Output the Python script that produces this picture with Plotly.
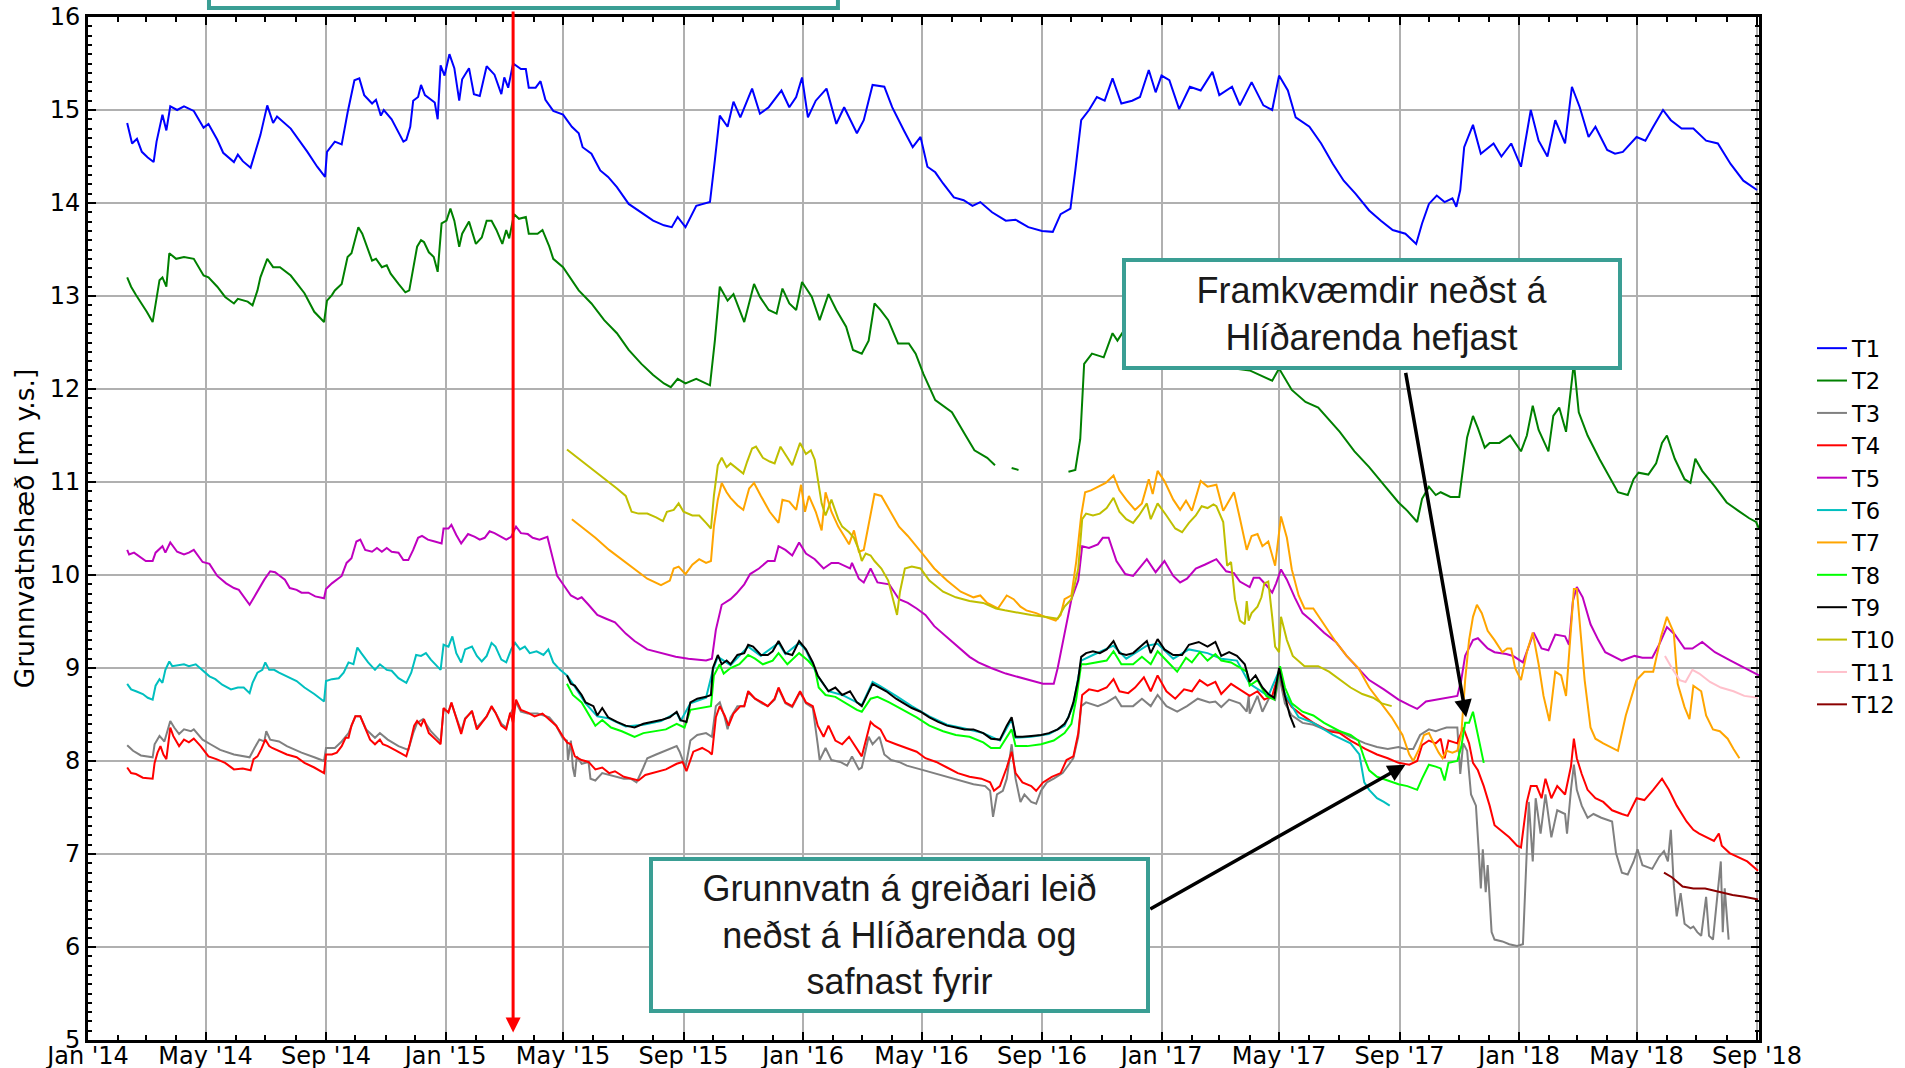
import plotly.graph_objects as go

# ---------------- data ----------------
t1_dates = ["2014-02-10","2014-02-15","2014-02-20","2014-02-25","2014-03-03","2014-03-09","2014-03-12","2014-03-18","2014-03-22","2014-03-26",
"2014-04-02","2014-04-09","2014-04-19","2014-04-29","2014-05-04","2014-05-13","2014-05-19","2014-05-30","2014-06-03","2014-06-08",
"2014-06-16","2014-06-26","2014-07-03","2014-07-09","2014-07-13","2014-07-27","2014-08-13","2014-08-23","2014-08-31","2014-09-02",
"2014-09-10","2014-09-17","2014-09-23","2014-09-30","2014-10-05","2014-10-10","2014-10-18","2014-10-22","2014-10-27","2014-10-30",
"2014-11-07","2014-11-14","2014-11-19","2014-11-22","2014-11-26","2014-11-29","2014-12-04","2014-12-07","2014-12-11","2014-12-21",
"2014-12-24","2014-12-27","2014-12-31","2015-01-05","2015-01-10","2015-01-15","2015-01-18","2015-01-25","2015-01-30","2015-02-05",
"2015-02-12","2015-02-20","2015-02-27","2015-03-02","2015-03-06","2015-03-11","2015-03-19","2015-03-24","2015-03-27","2015-04-03",
"2015-04-08","2015-04-13","2015-04-21","2015-05-01","2015-05-10","2015-05-17","2015-05-21","2015-05-30","2015-06-08","2015-06-16",
"2015-06-25","2015-07-07","2015-07-20","2015-08-01","2015-08-12","2015-08-20","2015-08-26","2015-09-03","2015-09-14","2015-09-28",
"2015-10-03","2015-10-08","2015-10-16","2015-10-22","2015-10-29","2015-11-10","2015-11-18","2015-11-27","2015-12-10","2015-12-18",
"2015-12-25","2015-12-31","2016-01-06","2016-01-14","2016-01-25","2016-02-04","2016-02-12","2016-02-25","2016-03-03","2016-03-12",
"2016-03-24","2016-04-01","2016-04-13","2016-04-22","2016-04-30","2016-05-07","2016-05-15","2016-05-23","2016-06-03","2016-06-13",
"2016-06-22","2016-06-30","2016-07-12","2016-07-26","2016-08-05","2016-08-18","2016-09-01","2016-09-12","2016-09-20","2016-09-30",
"2016-10-05","2016-10-11","2016-10-19","2016-10-27","2016-11-04","2016-11-12","2016-11-21","2016-12-02","2016-12-10","2016-12-19",
"2016-12-26","2017-01-01","2017-01-09","2017-01-19","2017-01-30","2017-02-10","2017-02-22","2017-03-01","2017-03-14","2017-03-22",
"2017-04-03","2017-04-15","2017-04-24","2017-05-01","2017-05-10","2017-05-18","2017-06-01","2017-06-13","2017-06-25","2017-07-06",
"2017-07-18","2017-08-01","2017-08-13","2017-08-25","2017-09-07","2017-09-18","2017-09-24","2017-10-01","2017-10-09","2017-10-17",
"2017-10-25","2017-10-29","2017-11-02","2017-11-06","2017-11-15","2017-11-23","2017-12-06","2017-12-14","2017-12-24","2018-01-03",
"2018-01-13","2018-01-21","2018-01-30","2018-02-07","2018-02-17","2018-02-24","2018-03-04","2018-03-13","2018-03-20","2018-04-01",
"2018-04-09","2018-04-17","2018-05-01","2018-05-10","2018-05-18","2018-05-28","2018-06-05","2018-06-16","2018-06-28","2018-07-11",
"2018-07-23","2018-08-05","2018-08-18","2018-09-01"]
t1_vals = [14.86,14.64,14.69,14.55,14.49,14.44,14.66,14.95,14.78,15.04,
15.00,15.04,14.99,14.81,14.85,14.68,14.54,14.44,14.52,14.45,
14.38,14.73,15.05,14.86,14.93,14.80,14.55,14.39,14.28,14.55,
14.66,14.63,14.97,15.32,15.34,15.16,15.07,15.11,14.94,15.00,
14.90,14.75,14.66,14.68,14.82,15.10,15.14,15.27,15.16,15.08,
14.90,15.48,15.37,15.60,15.45,15.10,15.33,15.45,15.17,15.15,
15.47,15.38,15.17,15.35,15.24,15.50,15.44,15.44,15.24,15.24,
15.31,15.11,14.99,14.95,14.82,14.75,14.60,14.53,14.35,14.28,
14.17,13.99,13.90,13.81,13.76,13.74,13.85,13.74,13.97,14.01,
14.46,14.94,14.82,15.09,14.92,15.23,14.96,15.03,15.21,15.03,
15.14,15.35,14.92,15.10,15.23,14.85,15.03,14.75,14.89,15.27,
15.25,15.03,14.78,14.60,14.71,14.39,14.33,14.21,14.06,14.03,
13.97,14.01,13.90,13.81,13.82,13.74,13.70,13.69,13.88,13.94,
14.35,14.89,15.00,15.14,15.10,15.34,15.07,15.10,15.14,15.43,
15.19,15.37,15.32,15.01,15.25,15.21,15.41,15.16,15.25,15.05,
15.30,15.05,15.00,15.37,15.21,14.92,14.82,14.64,14.42,14.24,
14.10,13.92,13.81,13.71,13.67,13.56,13.78,13.99,14.08,14.01,
14.05,13.96,14.14,14.60,14.84,14.53,14.64,14.50,14.64,14.39,
15.00,14.67,14.50,14.89,14.64,15.25,15.03,14.71,14.82,14.57,
14.53,14.55,14.71,14.67,14.82,15.00,14.89,14.80,14.80,14.67,
14.64,14.42,14.24,14.14]

t2_dates = ["2014-02-10","2014-02-14","2014-02-19","2014-02-26","2014-03-02","2014-03-08","2014-03-12","2014-03-15","2014-03-18","2014-03-22",
"2014-03-25","2014-04-01","2014-04-09","2014-04-19","2014-04-29","2014-05-04","2014-05-13","2014-05-21","2014-05-30","2014-06-03",
"2014-06-13","2014-06-18","2014-06-23","2014-06-26","2014-07-03","2014-07-09","2014-07-16","2014-07-27","2014-08-10","2014-08-20",
"2014-08-30","2014-09-02","2014-09-07","2014-09-10","2014-09-17","2014-09-23","2014-09-27","2014-10-04","2014-10-08","2014-10-13",
"2014-10-18","2014-10-22","2014-10-28","2014-11-02","2014-11-06","2014-11-14","2014-11-21","2014-11-25","2014-11-28","2014-12-03",
"2014-12-07","2014-12-10","2014-12-15","2014-12-20","2014-12-24","2014-12-28","2015-01-02","2015-01-06","2015-01-10","2015-01-15",
"2015-01-18","2015-01-25","2015-02-01","2015-02-07","2015-02-12","2015-02-17","2015-02-22","2015-02-28","2015-03-04","2015-03-07",
"2015-03-12","2015-03-17","2015-03-24","2015-03-27","2015-04-05","2015-04-10","2015-04-17","2015-04-21","2015-05-01","2015-05-10",
"2015-05-17","2015-05-30","2015-06-12","2015-06-25","2015-07-07","2015-07-20","2015-08-01","2015-08-12","2015-08-19","2015-08-26",
"2015-09-03","2015-09-14","2015-09-28","2015-10-03","2015-10-08","2015-10-16","2015-10-22","2015-11-02","2015-11-12","2015-11-18",
"2015-11-27","2015-12-05","2015-12-11","2015-12-18","2015-12-25","2015-12-31","2016-01-10","2016-01-18","2016-01-27","2016-02-04",
"2016-02-14","2016-02-21","2016-03-01","2016-03-08","2016-03-14","2016-03-20","2016-03-28","2016-04-07","2016-04-18","2016-04-25",
"2016-05-03","2016-05-15","2016-06-01","2016-06-15","2016-06-24","2016-07-07","2016-07-15","2016-07-25","2016-08-01","2016-08-08",
"2016-09-01","2016-09-28","2016-10-05","2016-10-10","2016-10-14","2016-10-22","2016-11-03","2016-11-12","2016-11-17","2016-12-01",
"2016-12-20","2017-01-10","2017-02-01","2017-02-20","2017-03-10","2017-03-17","2017-04-01","2017-04-24","2017-05-01","2017-05-14",
"2017-05-28","2017-06-10","2017-06-21","2017-07-02","2017-07-17","2017-08-01","2017-08-16","2017-08-31","2017-09-09","2017-09-19",
"2017-09-24","2017-10-01","2017-10-08","2017-10-13","2017-10-23","2017-11-01","2017-11-05","2017-11-09","2017-11-15","2017-11-20",
"2017-11-27","2017-12-02","2017-12-12","2017-12-18","2017-12-23","2017-12-27","2018-01-03","2018-01-09","2018-01-15","2018-01-21",
"2018-01-31","2018-02-05","2018-02-11","2018-02-18","2018-02-26","2018-03-03","2018-03-12","2018-03-24","2018-04-02","2018-04-12",
"2018-04-22","2018-04-28","2018-05-03","2018-05-13","2018-05-21","2018-05-27","2018-06-01","2018-06-09","2018-06-19","2018-06-25",
"2018-06-30","2018-07-07","2018-07-20","2018-08-01","2018-08-13","2018-08-24","2018-08-31","2018-09-03"]
t2_vals = [13.20,13.10,13.01,12.90,12.83,12.72,12.99,13.17,13.20,13.10,
13.46,13.40,13.42,13.40,13.22,13.20,13.10,12.99,12.92,12.97,
12.94,12.90,13.06,13.20,13.40,13.31,13.31,13.22,13.03,12.83,
12.72,12.95,13.01,13.06,13.13,13.42,13.46,13.74,13.67,13.53,
13.38,13.40,13.31,13.33,13.24,13.13,13.04,13.06,13.24,13.53,
13.60,13.58,13.47,13.42,13.26,13.78,13.81,13.94,13.81,13.53,
13.67,13.80,13.56,13.63,13.81,13.81,13.71,13.56,13.71,13.62,
13.88,13.83,13.85,13.67,13.67,13.71,13.53,13.40,13.31,13.17,
13.06,12.92,12.74,12.60,12.42,12.27,12.15,12.06,12.02,12.11,
12.06,12.11,12.04,12.52,13.10,12.95,13.02,12.72,13.13,12.99,
12.85,12.81,13.08,12.92,12.85,13.15,12.99,12.74,13.02,12.85,
12.67,12.42,12.38,12.52,12.92,12.85,12.74,12.49,12.49,12.38,
12.16,11.88,11.75,11.50,11.34,11.26,11.18,None,11.15,11.13,
None,11.11,11.13,11.46,12.27,12.38,12.34,12.60,12.52,12.75,
12.95,12.90,12.80,12.60,12.40,12.22,12.20,12.09,12.22,11.99,
11.86,11.80,11.67,11.54,11.33,11.16,10.97,10.78,10.69,10.57,
10.82,10.95,10.86,10.89,10.84,10.84,11.16,11.48,11.71,11.58,
11.37,11.42,11.42,11.46,11.50,11.44,11.33,11.50,11.82,11.56,
11.33,11.71,11.80,11.54,12.28,11.75,11.50,11.25,11.08,10.89,
10.86,11.03,11.10,11.08,11.20,11.42,11.50,11.25,11.03,10.99,
11.25,11.12,10.95,10.78,10.69,10.61,10.57,10.50]

t3_dates = ["2014-02-10","2014-02-16","2014-02-24","2014-03-08","2014-03-10","2014-03-15","2014-03-20","2014-03-26","2014-03-30","2014-04-04",
"2014-04-09","2014-04-16","2014-04-19","2014-04-28","2014-05-06","2014-05-16","2014-05-30","2014-06-15","2014-06-20","2014-06-25",
"2014-06-30","2014-07-02","2014-07-06","2014-07-15","2014-07-23","2014-08-07","2014-08-20","2014-08-30","2014-09-01","2014-09-10",
"2014-09-17","2014-09-24","2014-10-01","2014-10-06","2014-10-12","2014-10-21","2014-10-26","2014-11-03","2014-11-14","2014-11-24",
"2014-11-29","2014-12-03","2014-12-09","2014-12-17","2014-12-27","2014-12-30","2015-01-04","2015-01-07","2015-01-12","2015-01-17",
"2015-01-21","2015-01-28","2015-02-02","2015-02-07","2015-02-12","2015-02-17","2015-02-21","2015-02-27","2015-03-04","2015-03-08",
"2015-03-14","2015-03-19","2015-03-26","2015-04-05","2015-04-17","2015-04-24","2015-05-01","2015-05-05","2015-05-06","2015-05-09",
"2015-05-11","2015-05-13","2015-05-15","2015-05-20","2015-05-27","2015-05-29","2015-06-03","2015-06-10","2015-06-17","2015-06-23",
"2015-07-02","2015-07-09","2015-07-15","2015-07-22","2015-07-26","2015-08-04","2015-08-16","2015-08-25","2015-08-28","2015-09-03",
"2015-09-08","2015-09-15","2015-09-24","2015-09-30","2015-10-04","2015-10-08","2015-10-13","2015-10-16","2015-10-19","2015-10-26",
"2015-11-02","2015-11-06","2015-11-13","2015-11-20","2015-11-26","2015-12-03","2015-12-07","2015-12-14","2015-12-21","2015-12-29",
"2016-01-04","2016-01-11","2016-01-16","2016-01-18","2016-01-24","2016-01-30","2016-02-08","2016-02-15","2016-02-20","2016-02-27",
"2016-03-01","2016-03-08","2016-03-12","2016-03-19","2016-03-24","2016-03-31","2016-04-08","2016-04-16","2016-04-30","2016-05-14",
"2016-05-27","2016-06-10","2016-06-23","2016-07-05","2016-07-10","2016-07-13","2016-07-17","2016-07-23","2016-07-27","2016-08-01",
"2016-08-05","2016-08-10","2016-08-14","2016-08-21","2016-08-26","2016-08-31","2016-09-06","2016-09-13","2016-09-22","2016-09-29",
"2016-10-03","2016-10-08","2016-10-11","2016-10-16","2016-10-28","2016-11-06","2016-11-15","2016-11-21","2016-12-03","2016-12-12",
"2016-12-21","2016-12-28","2017-01-06","2017-01-17","2017-01-27","2017-02-07","2017-02-19","2017-02-25","2017-03-03","2017-03-11",
"2017-03-22","2017-03-29","2017-03-31","2017-04-01","2017-04-09","2017-04-14","2017-04-22","2017-04-27","2017-05-01","2017-05-07",
"2017-05-14","2017-05-25","2017-06-05","2017-06-16","2017-07-02","2017-07-13","2017-07-28","2017-08-09","2017-08-20","2017-08-31",
"2017-09-07","2017-09-15","2017-09-22","2017-10-01","2017-10-08","2017-10-13","2017-10-19","2017-10-30","2017-11-02","2017-11-05",
"2017-11-09","2017-11-13","2017-11-18","2017-11-21","2017-11-23","2017-11-25","2017-11-28","2017-11-30","2017-12-04","2017-12-07",
"2017-12-15","2017-12-22","2017-12-30","2018-01-05","2018-01-09","2018-01-11","2018-01-15","2018-01-18","2018-01-23","2018-01-28",
"2018-02-03","2018-02-09","2018-02-17","2018-02-19","2018-02-23","2018-02-26","2018-03-01","2018-03-06","2018-03-12","2018-03-18",
"2018-03-26","2018-04-01","2018-04-06","2018-04-10","2018-04-16","2018-04-22","2018-04-28","2018-05-02","2018-05-07","2018-05-17",
"2018-05-24","2018-05-29","2018-06-02","2018-06-05","2018-06-08","2018-06-11","2018-06-15","2018-06-19","2018-06-25","2018-06-28",
"2018-07-02","2018-07-06","2018-07-11","2018-07-14","2018-07-18","2018-07-26","2018-07-28","2018-07-30","2018-08-03"]
t3_vals = [8.17,8.11,8.06,8.04,8.18,8.27,8.21,8.43,8.36,8.29,
8.34,8.32,8.34,8.23,8.18,8.12,8.07,8.04,8.14,8.23,
8.21,8.32,8.23,8.21,8.16,8.09,8.04,8.00,8.14,8.14,
8.21,8.30,8.48,8.48,8.34,8.25,8.30,8.23,8.16,8.12,
8.30,8.41,8.45,8.32,8.21,8.55,8.53,8.62,8.47,8.32,
8.46,8.53,8.36,8.42,8.48,8.58,8.52,8.40,8.36,8.50,
8.63,8.53,8.51,8.51,8.47,8.38,8.24,8.22,8.01,8.22,
7.93,7.83,8.05,7.97,7.99,7.81,7.79,7.87,7.85,7.83,
7.81,7.81,7.77,7.93,8.03,8.07,8.12,8.16,8.10,7.93,
8.22,8.28,8.30,8.26,8.59,8.63,8.47,8.34,8.47,8.59,
8.59,8.74,8.67,8.62,8.59,8.66,8.78,8.62,8.58,8.74,
8.62,8.57,8.18,8.01,8.14,8.01,7.99,7.95,8.05,7.91,
7.93,8.26,8.18,8.26,8.07,8.01,7.99,7.95,7.91,7.87,
7.83,7.79,7.75,7.73,7.68,7.40,7.64,7.68,7.81,8.18,
7.81,7.56,7.64,7.56,7.54,7.68,7.77,7.81,7.87,7.97,
8.03,8.26,8.59,8.63,8.59,8.63,8.69,8.59,8.59,8.67,
8.59,8.71,8.59,8.53,8.59,8.67,8.63,8.64,8.58,8.66,
8.62,8.53,8.70,8.51,8.70,8.53,8.70,8.66,8.92,8.62,
8.49,8.41,8.39,8.34,8.32,8.26,8.19,8.15,8.13,8.15,
8.13,8.13,8.28,8.34,8.32,8.34,8.36,8.36,7.86,8.19,
8.11,7.64,7.52,7.01,6.63,7.05,6.59,6.88,6.16,6.08,
6.06,6.03,6.01,6.03,7.18,7.56,6.92,7.60,7.22,7.64,
7.18,7.47,7.43,7.22,7.69,7.96,7.69,7.52,7.39,7.43,
7.39,7.37,7.35,7.01,6.80,6.78,6.92,7.05,6.88,6.84,
6.97,7.03,6.92,7.26,6.67,6.33,6.58,6.25,6.20,6.22,
6.16,6.12,6.54,6.12,6.08,6.92,6.16,6.63,6.08]

t4_dates = ["2014-02-10","2014-02-14","2014-02-19","2014-02-26","2014-03-08","2014-03-10","2014-03-13","2014-03-16","2014-03-19","2014-03-22",
"2014-03-26","2014-03-29","2014-04-04","2014-04-09","2014-04-14","2014-04-19","2014-04-26","2014-05-04","2014-05-12","2014-05-21",
"2014-05-30","2014-06-08","2014-06-16","2014-06-19","2014-06-23","2014-06-27","2014-07-01","2014-07-05","2014-07-08","2014-07-15",
"2014-07-23","2014-08-02","2014-08-10","2014-08-20","2014-08-30","2014-09-01","2014-09-07","2014-09-12","2014-09-17","2014-09-21",
"2014-09-24","2014-09-27","2014-10-01","2014-10-06","2014-10-11","2014-10-16","2014-10-21","2014-10-26","2014-10-29","2014-11-03",
"2014-11-12","2014-11-22","2014-11-25","2014-11-30","2014-12-03","2014-12-07","2014-12-10","2014-12-15","2014-12-22","2014-12-27",
"2014-12-30","2015-01-04","2015-01-07","2015-01-12","2015-01-17","2015-01-21","2015-01-28","2015-02-02","2015-02-07","2015-02-12",
"2015-02-17","2015-02-21","2015-02-27","2015-03-04","2015-03-08","2015-03-11","2015-03-14","2015-03-19","2015-03-26","2015-04-02",
"2015-04-10","2015-04-17","2015-04-24","2015-05-01","2015-05-05","2015-05-09","2015-05-13","2015-05-20","2015-05-27","2015-06-03",
"2015-06-10","2015-06-17","2015-06-23","2015-07-02","2015-07-11","2015-07-17","2015-07-24","2015-08-01","2015-08-14","2015-08-25",
"2015-08-31","2015-09-04","2015-09-11","2015-09-20","2015-09-27","2015-09-30","2015-10-04","2015-10-08","2015-10-13","2015-10-17",
"2015-10-22","2015-10-29","2015-11-02","2015-11-06","2015-11-13","2015-11-20","2015-11-26","2015-12-03","2015-12-07","2015-12-14",
"2015-12-21","2015-12-29","2016-01-04","2016-01-11","2016-01-16","2016-01-22","2016-01-27","2016-02-03","2016-02-10","2016-02-17",
"2016-02-24","2016-03-01","2016-03-10","2016-03-14","2016-03-20","2016-03-26","2016-04-05","2016-04-16","2016-04-26","2016-05-05",
"2016-05-16","2016-05-27","2016-06-07","2016-06-19","2016-07-01","2016-07-10","2016-07-14","2016-07-20","2016-07-27","2016-08-01",
"2016-08-05","2016-08-12","2016-08-21","2016-08-26","2016-09-02","2016-09-11","2016-09-20","2016-09-26","2016-10-03","2016-10-08",
"2016-10-12","2016-10-19","2016-10-28","2016-11-06","2016-11-13","2016-11-19","2016-11-28","2016-12-05","2016-12-14","2016-12-21",
"2016-12-28","2017-01-06","2017-01-15","2017-01-24","2017-02-01","2017-02-09","2017-02-17","2017-02-25","2017-03-03","2017-03-13",
"2017-03-22","2017-03-29","2017-04-01","2017-04-09","2017-04-16","2017-04-24","2017-05-01","2017-05-07","2017-05-14","2017-05-25",
"2017-06-05","2017-06-21","2017-07-02","2017-07-13","2017-07-28","2017-08-09","2017-08-20","2017-08-31","2017-09-11","2017-09-19",
"2017-09-24","2017-10-01","2017-10-08","2017-10-13","2017-10-17","2017-10-21","2017-10-30","2017-11-05","2017-11-11","2017-11-15",
"2017-11-20","2017-11-26","2017-12-02","2017-12-07","2017-12-15","2017-12-22","2017-12-30","2018-01-03","2018-01-09","2018-01-13",
"2018-01-19","2018-01-24","2018-01-28","2018-02-03","2018-02-09","2018-02-17","2018-02-23","2018-02-26","2018-03-01","2018-03-06",
"2018-03-12","2018-03-20","2018-03-28","2018-04-06","2018-04-16","2018-04-22","2018-05-01","2018-05-09","2018-05-18","2018-05-27",
"2018-06-03","2018-06-11","2018-06-21","2018-06-28","2018-07-04","2018-07-12","2018-07-19","2018-07-24","2018-07-27","2018-08-04",
"2018-08-12","2018-08-22","2018-09-02"]
t4_vals = [7.93,7.87,7.86,7.82,7.81,7.98,8.09,8.16,8.07,8.02,
8.36,8.27,8.16,8.23,8.20,8.24,8.16,8.05,8.02,7.98,
7.91,7.92,7.90,8.02,8.05,8.13,8.23,8.16,8.14,8.11,
8.07,8.04,7.98,7.93,7.87,8.07,8.07,8.09,8.16,8.25,
8.25,8.38,8.48,8.48,8.36,8.23,8.18,8.23,8.18,8.16,
8.11,8.05,8.16,8.38,8.43,8.38,8.45,8.30,8.23,8.18,
8.57,8.52,8.63,8.45,8.29,8.45,8.54,8.34,8.41,8.48,
8.59,8.52,8.38,8.34,8.52,8.41,8.66,8.55,8.52,8.48,
8.51,8.44,8.38,8.26,8.20,8.18,8.05,8.01,7.99,7.91,
7.93,7.87,7.89,7.83,7.81,7.79,7.85,7.87,7.91,7.97,
7.99,7.89,8.10,8.14,8.10,8.07,8.47,8.59,8.49,8.38,
8.51,8.59,8.59,8.75,8.67,8.63,8.59,8.67,8.79,8.63,
8.59,8.75,8.63,8.59,8.38,8.26,8.38,8.22,8.18,8.26,
8.14,8.05,8.42,8.38,8.34,8.22,8.18,8.14,8.10,8.03,
7.99,7.93,7.87,7.83,7.81,7.77,7.68,7.73,7.93,8.10,
7.87,7.77,7.73,7.68,7.77,7.83,7.87,8.01,8.05,8.30,
8.71,8.77,8.75,8.79,8.88,8.75,8.73,8.79,8.90,8.75,
8.92,8.75,8.67,8.77,8.75,8.87,8.81,8.85,8.72,8.83,
8.77,8.72,8.70,8.75,8.66,8.70,8.96,8.70,8.58,8.49,
8.41,8.32,8.30,8.22,8.13,8.07,8.03,7.98,7.96,8.00,
8.17,8.22,8.19,8.24,8.03,8.22,8.19,8.36,8.19,7.98,
7.90,7.73,7.52,7.31,7.24,7.18,7.09,7.07,7.56,7.73,
7.73,7.60,7.81,7.60,7.73,7.64,7.94,8.24,8.03,7.86,
7.69,7.60,7.56,7.47,7.43,7.41,7.60,7.58,7.69,7.81,
7.69,7.52,7.35,7.26,7.22,7.18,7.14,7.22,7.09,7.01,
6.97,6.92,6.82]

t5_dates = ["2014-02-10","2014-02-12","2014-02-17","2014-02-22","2014-03-01","2014-03-08","2014-03-11","2014-03-18","2014-03-21","2014-03-26",
"2014-04-02","2014-04-09","2014-04-14","2014-04-19","2014-04-24","2014-04-28","2014-05-05","2014-05-13","2014-05-22","2014-05-30",
"2014-06-04","2014-06-09","2014-06-15","2014-06-20","2014-06-25","2014-06-30","2014-07-06","2014-07-11","2014-07-16","2014-07-21",
"2014-07-26","2014-08-02","2014-08-07","2014-08-14","2014-08-21","2014-08-30","2014-09-01","2014-09-07","2014-09-17","2014-09-22",
"2014-09-27","2014-10-02","2014-10-06","2014-10-11","2014-10-18","2014-10-23","2014-10-28","2014-11-02","2014-11-07","2014-11-14",
"2014-11-19","2014-11-24","2014-11-29","2014-12-04","2014-12-08","2014-12-14","2014-12-21","2014-12-28","2014-12-30","2015-01-04",
"2015-01-07","2015-01-12","2015-01-17","2015-01-24","2015-01-31","2015-02-05","2015-02-10","2015-02-15","2015-02-20","2015-02-27",
"2015-03-04","2015-03-09","2015-03-14","2015-03-19","2015-03-26","2015-03-31","2015-04-07","2015-04-15","2015-04-20","2015-04-25",
"2015-05-01","2015-05-09","2015-05-16","2015-05-20","2015-05-27","2015-06-05","2015-06-14","2015-06-23","2015-07-04","2015-07-13",
"2015-07-26","2015-08-09","2015-08-24","2015-09-06","2015-09-24","2015-09-30","2015-10-04","2015-10-10","2015-10-19","2015-10-25",
"2015-11-02","2015-11-08","2015-11-17","2015-11-26","2015-12-03","2015-12-07","2015-12-14","2015-12-21","2015-12-28","2016-01-04",
"2016-01-13","2016-01-22","2016-01-30","2016-02-06","2016-02-18","2016-02-20","2016-02-27","2016-03-03","2016-03-10","2016-03-17",
"2016-03-29","2016-04-08","2016-04-17","2016-04-26","2016-05-05","2016-05-14","2016-05-23","2016-06-01","2016-06-10","2016-06-19",
"2016-06-28","2016-07-11","2016-07-26","2016-08-08","2016-08-21","2016-09-02","2016-09-13","2016-09-17","2016-09-24","2016-10-01",
"2016-10-08","2016-10-12","2016-10-19","2016-10-28","2016-11-02","2016-11-08","2016-11-16","2016-11-25","2016-12-03","2016-12-12",
"2016-12-17","2016-12-26","2017-01-04","2017-01-13","2017-01-20","2017-01-27","2017-02-05","2017-02-14","2017-02-26","2017-03-08",
"2017-03-16","2017-03-22","2017-04-01","2017-04-05","2017-04-11","2017-04-18","2017-04-24","2017-04-28","2017-05-03","2017-05-09",
"2017-05-17","2017-05-25","2017-06-03","2017-06-16","2017-06-28","2017-07-09","2017-07-21","2017-08-01","2017-08-16","2017-08-31",
"2017-09-11","2017-09-19","2017-09-28","2017-10-08","2017-10-19","2017-10-30","2017-11-03","2017-11-07","2017-11-15","2017-11-20",
"2017-11-30","2017-12-07","2017-12-19","2017-12-26","2018-01-05","2018-01-16","2018-01-24","2018-01-31","2018-02-07","2018-02-17",
"2018-02-21","2018-02-25","2018-03-01","2018-03-07","2018-03-15","2018-03-23","2018-03-30","2018-04-07","2018-04-16","2018-04-29",
"2018-05-07","2018-05-17","2018-05-24","2018-06-01","2018-06-09","2018-06-19","2018-06-27","2018-07-07","2018-07-20","2018-08-05",
"2018-08-20","2018-09-03"]
t5_vals = [10.27,10.22,10.24,10.20,10.15,10.15,10.24,10.31,10.24,10.35,
10.25,10.22,10.24,10.27,10.20,10.14,10.12,9.99,9.91,9.86,
9.84,9.77,9.68,9.77,9.86,9.95,10.04,10.03,9.99,9.95,
9.86,9.84,9.81,9.81,9.77,9.75,9.85,9.91,9.99,10.13,
10.18,10.36,10.38,10.27,10.25,10.29,10.25,10.29,10.25,10.24,
10.16,10.16,10.27,10.40,10.42,10.38,10.36,10.34,10.50,10.50,
10.54,10.43,10.34,10.44,10.41,10.38,10.40,10.47,10.45,10.41,
10.38,10.41,10.52,10.45,10.44,10.40,10.38,10.41,10.20,9.99,
9.90,9.78,9.74,9.76,9.68,9.57,9.53,9.49,9.37,9.29,
9.20,9.16,9.12,9.10,9.08,9.10,9.41,9.68,9.74,9.80,
9.90,10.01,10.07,10.15,10.15,10.31,10.27,10.21,10.35,10.23,
10.17,10.07,10.13,10.13,10.07,10.13,9.96,9.92,10.07,9.92,
9.90,9.74,9.70,9.64,9.57,9.45,9.37,9.29,9.20,9.12,
9.06,9.00,8.94,8.90,8.86,8.83,8.83,9.00,9.37,9.74,
9.94,10.31,10.29,10.33,10.40,10.40,10.15,10.01,9.99,10.11,
10.17,10.03,10.15,9.99,9.92,9.96,10.07,10.11,10.17,10.04,
10.02,9.93,9.87,9.97,9.97,9.89,9.81,9.91,10.06,9.95,
9.76,9.59,9.51,9.38,9.28,9.13,9.00,8.87,8.77,8.66,
8.60,8.56,8.64,8.66,8.68,8.70,8.87,9.13,9.30,9.32,
9.21,9.17,9.15,9.13,9.06,9.38,9.21,9.19,9.36,9.34,
9.25,9.72,9.87,9.76,9.47,9.30,9.17,9.13,9.08,9.13,
9.11,9.11,9.25,9.44,9.36,9.21,9.21,9.28,9.17,9.08,
9.00,8.92]

t6_dates = ["2014-02-10","2014-02-14","2014-02-19","2014-02-26","2014-03-03","2014-03-08","2014-03-11","2014-03-15","2014-03-18","2014-03-21",
"2014-03-25","2014-03-28","2014-04-09","2014-04-14","2014-04-21","2014-04-28","2014-05-05","2014-05-11","2014-05-18","2014-05-27",
"2014-06-03","2014-06-09","2014-06-15","2014-06-18","2014-06-23","2014-06-28","2014-07-01","2014-07-05","2014-07-10","2014-07-15",
"2014-07-23","2014-08-02","2014-08-10","2014-08-20","2014-08-30","2014-09-01","2014-09-07","2014-09-14","2014-09-19","2014-09-24",
"2014-09-29","2014-10-03","2014-10-07","2014-10-14","2014-10-21","2014-10-26","2014-11-02","2014-11-07","2014-11-14","2014-11-22",
"2014-11-27","2014-12-02","2014-12-07","2014-12-12","2014-12-17","2014-12-22","2014-12-27","2014-12-30","2015-01-04","2015-01-08",
"2015-01-12","2015-01-17","2015-01-21","2015-01-28","2015-02-02","2015-02-07","2015-02-12","2015-02-17","2015-02-21","2015-02-27",
"2015-03-04","2015-03-09","2015-03-13","2015-03-18","2015-03-23","2015-03-28","2015-04-04","2015-04-11","2015-04-16","2015-04-21",
"2015-04-28","2015-05-05","2015-05-13","2015-05-24","2015-06-05","2015-06-16","2015-07-04","2015-07-22","2015-08-09","2015-08-25",
"2015-08-29","2015-09-08","2015-09-24","2015-10-01","2015-10-06","2015-10-19","2015-11-06","2015-11-19","2015-12-07","2015-12-14",
"2015-12-28","2016-01-04","2016-01-16","2016-01-27","2016-02-10","2016-02-25","2016-03-01","2016-03-12","2016-03-19","2016-04-05",
"2016-04-21","2016-05-09","2016-05-27","2016-06-14","2016-07-03","2016-07-20","2016-08-01","2016-08-05","2016-08-21","2016-09-08",
"2016-09-24","2016-10-03","2016-10-11","2016-10-23","2016-11-13","2016-11-26","2016-12-17","2016-12-28","2017-01-13","2017-01-29",
"2017-02-17","2017-03-03","2017-03-19","2017-04-01","2017-04-20","2017-05-01","2017-05-07","2017-05-21","2017-06-05","2017-06-25",
"2017-07-13","2017-07-22","2017-07-27","2017-08-01","2017-08-09","2017-08-16","2017-08-22"]
t6_vals = [8.83,8.77,8.75,8.72,8.68,8.66,8.81,8.88,8.84,8.98,
9.07,9.02,9.04,9.02,9.04,8.97,8.91,8.88,8.82,8.77,
8.79,8.79,8.73,8.84,8.95,8.98,9.06,8.98,8.98,8.95,
8.91,8.86,8.79,8.72,8.64,8.86,8.88,8.89,8.95,9.06,
9.04,9.22,9.16,9.06,8.98,9.04,8.98,8.97,8.89,8.84,
8.95,9.14,9.13,9.16,9.09,9.04,8.98,9.25,9.23,9.34,
9.16,9.06,9.20,9.23,9.13,9.07,9.13,9.27,9.23,9.09,
9.06,9.20,9.27,9.20,9.23,9.16,9.18,9.14,9.20,9.06,
8.98,8.92,8.80,8.62,8.48,8.46,8.37,8.39,8.43,8.52,
8.43,8.62,8.68,8.98,9.12,9.03,9.23,9.13,9.27,9.15,
9.27,9.19,8.91,8.75,8.71,8.63,8.60,8.85,8.81,8.70,
8.59,8.48,8.39,8.35,8.30,8.22,8.45,8.25,8.26,8.29,
8.38,8.60,9.08,9.14,9.24,9.10,9.24,9.26,9.10,9.20,
9.16,9.10,9.08,8.83,8.70,8.97,8.72,8.47,8.41,8.28,
8.19,8.07,7.77,7.69,7.60,7.56,7.52]

t7_dates = ["2015-05-10","2015-05-20","2015-06-03","2015-06-17","2015-06-30","2015-07-13","2015-07-26","2015-08-09","2015-08-18","2015-08-22",
"2015-08-27","2015-09-03","2015-09-10","2015-09-17","2015-09-24","2015-09-29","2015-10-02","2015-10-06","2015-10-10","2015-10-15",
"2015-10-19","2015-10-26","2015-11-01","2015-11-07","2015-11-12","2015-11-19","2015-11-28","2015-12-07","2015-12-11","2015-12-18",
"2015-12-25","2015-12-30","2016-01-03","2016-01-07","2016-01-14","2016-01-20","2016-01-24","2016-01-30","2016-02-06","2016-02-13",
"2016-02-17","2016-02-22","2016-02-27","2016-03-03","2016-03-10","2016-03-14","2016-03-21","2016-03-28","2016-04-08","2016-04-17",
"2016-04-26","2016-05-05","2016-05-14","2016-05-27","2016-06-10","2016-06-23","2016-06-30","2016-07-07","2016-07-18","2016-07-27",
"2016-08-03","2016-08-10","2016-08-16","2016-08-26","2016-09-04","2016-09-15","2016-09-20","2016-09-24","2016-10-01","2016-10-06",
"2016-10-11","2016-10-15","2016-10-21","2016-10-28","2016-11-05","2016-11-13","2016-11-19","2016-11-26","2016-12-05","2016-12-12",
"2016-12-19","2016-12-23","2016-12-28","2017-01-04","2017-01-13","2017-01-20","2017-01-26","2017-02-01","2017-02-10","2017-02-17",
"2017-02-26","2017-03-05","2017-03-16","2017-03-22","2017-03-29","2017-04-03","2017-04-09","2017-04-14","2017-04-20","2017-04-27",
"2017-05-03","2017-05-09","2017-05-14","2017-05-21","2017-05-27","2017-06-05","2017-06-16","2017-06-28","2017-07-09","2017-07-21",
"2017-08-01","2017-08-13","2017-08-24","2017-09-04","2017-09-11","2017-09-15","2017-09-21","2017-09-26","2017-10-01","2017-10-06",
"2017-10-11","2017-10-15","2017-10-19","2017-10-25","2017-10-30","2017-11-03","2017-11-07","2017-11-11","2017-11-15","2017-11-19",
"2017-11-24","2017-11-30","2017-12-07","2017-12-15","2017-12-20","2017-12-24","2017-12-28","2018-01-03","2018-01-09","2018-01-15",
"2018-01-21","2018-01-26","2018-02-01","2018-02-07","2018-02-13","2018-02-18","2018-02-23","2018-02-26","2018-03-01","2018-03-05",
"2018-03-09","2018-03-15","2018-03-20","2018-03-28","2018-04-04","2018-04-12","2018-04-20","2018-05-01","2018-05-09","2018-05-18",
"2018-05-26","2018-06-01","2018-06-08","2018-06-12","2018-06-19","2018-06-24","2018-06-28","2018-07-06","2018-07-11","2018-07-18",
"2018-07-25","2018-08-02","2018-08-08","2018-08-14"]
t7_vals = [10.60,10.52,10.40,10.27,10.17,10.07,9.96,9.89,9.94,10.07,
10.09,10.01,10.11,10.17,10.13,10.15,10.52,10.81,10.99,10.89,
10.83,10.75,10.70,10.93,10.99,10.85,10.68,10.56,10.81,10.79,
10.70,10.97,10.68,10.85,10.68,10.48,10.89,10.68,10.52,10.40,
10.33,10.48,10.25,10.27,10.64,10.87,10.85,10.72,10.52,10.42,
10.31,10.19,10.07,9.94,9.82,9.76,9.78,9.70,9.64,9.78,
9.74,9.66,9.62,9.59,9.55,9.51,9.57,9.74,9.78,10.15,
10.64,10.89,10.91,10.95,10.99,11.07,10.91,10.81,10.70,10.77,
11.03,10.87,11.12,11.01,10.81,10.70,10.80,10.69,11.01,10.95,
10.97,10.69,10.89,10.61,10.27,10.42,10.44,10.31,10.36,10.10,
10.63,10.40,10.06,9.78,9.64,9.64,9.47,9.28,9.13,9.00,
8.79,8.62,8.47,8.28,8.07,8.00,8.13,8.28,8.30,8.19,
8.09,8.03,8.11,8.09,8.11,8.28,8.87,9.30,9.55,9.68,
9.59,9.40,9.30,9.17,9.21,9.21,9.00,8.87,9.17,9.38,
9.04,8.70,8.43,8.96,8.92,8.70,9.47,9.85,9.85,9.38,
8.87,8.36,8.24,8.19,8.15,8.11,8.49,8.87,8.96,8.96,
9.34,9.55,9.38,8.83,8.58,8.45,8.81,8.75,8.49,8.34,
8.32,8.24,8.13,8.03]

t8_dates = ["2015-05-05","2015-05-11","2015-05-20","2015-05-29","2015-06-03","2015-06-10","2015-06-19","2015-06-30","2015-07-13","2015-07-22",
"2015-08-01","2015-08-14","2015-08-25","2015-09-02","2015-09-08","2015-09-20","2015-09-29","2015-10-02","2015-10-08","2015-10-12",
"2015-10-19","2015-10-28","2015-11-06","2015-11-13","2015-11-21","2015-12-01","2015-12-07","2015-12-16","2015-12-28","2016-01-06",
"2016-01-13","2016-01-17","2016-01-24","2016-02-03","2016-02-12","2016-02-25","2016-03-01","2016-03-10","2016-03-17","2016-03-29",
"2016-04-12","2016-04-26","2016-05-09","2016-05-23","2016-06-05","2016-06-19","2016-07-03","2016-07-11","2016-07-20","2016-07-27",
"2016-08-01","2016-08-05","2016-08-17","2016-08-31","2016-09-13","2016-09-24","2016-10-01","2016-10-06","2016-10-11","2016-10-16",
"2016-10-28","2016-11-06","2016-11-13","2016-11-21","2016-12-03","2016-12-12","2016-12-21","2016-12-28","2017-01-06","2017-01-17",
"2017-01-26","2017-02-01","2017-02-09","2017-02-17","2017-02-25","2017-03-03","2017-03-13","2017-03-22","2017-03-29","2017-04-01",
"2017-04-09","2017-04-18","2017-04-26","2017-05-02","2017-05-07","2017-05-14","2017-05-25","2017-06-05","2017-06-16","2017-07-02",
"2017-07-13","2017-07-21","2017-07-27","2017-08-01","2017-08-09","2017-08-20","2017-08-31","2017-09-09","2017-09-19","2017-09-24",
"2017-10-01","2017-10-08","2017-10-13","2017-10-17","2017-10-21","2017-10-30","2017-11-03","2017-11-07","2017-11-11","2017-11-15",
"2017-11-20","2017-11-26"]
t8_vals = [8.83,8.71,8.63,8.47,8.38,8.44,8.36,8.32,8.26,8.30,
8.32,8.34,8.40,8.36,8.55,8.57,8.59,8.92,9.04,8.94,
9.00,9.04,9.14,9.10,9.04,9.08,9.16,9.04,9.16,9.08,
9.00,8.79,8.71,8.69,8.63,8.55,8.53,8.67,8.69,8.63,
8.55,8.47,8.38,8.32,8.28,8.26,8.20,8.14,8.14,8.26,
8.34,8.16,8.16,8.18,8.22,8.30,8.40,8.67,9.04,9.04,
9.06,9.08,9.18,9.04,9.04,9.12,9.04,9.18,9.08,8.96,
9.11,9.06,9.17,9.08,9.15,9.08,9.06,9.00,8.96,8.81,
8.87,8.70,8.66,9.02,8.79,8.62,8.53,8.49,8.41,8.32,
8.28,8.22,8.03,7.90,7.83,7.79,7.75,7.73,7.69,7.81,
7.96,7.94,7.92,7.79,7.98,8.00,8.15,8.41,8.41,8.53,
8.28,7.98]

t9_dates = ["2015-05-05","2015-05-09","2015-05-13","2015-05-20","2015-05-24","2015-06-01","2015-06-05","2015-06-10","2015-06-16","2015-06-25",
"2015-07-04","2015-07-13","2015-07-22","2015-08-01","2015-08-09","2015-08-18","2015-08-25","2015-08-29","2015-09-04","2015-09-08",
"2015-09-15","2015-09-24","2015-09-29","2015-10-01","2015-10-06","2015-10-10","2015-10-15","2015-10-19","2015-10-26","2015-11-02",
"2015-11-06","2015-11-11","2015-11-19","2015-11-26","2015-12-01","2015-12-07","2015-12-14","2015-12-21","2015-12-28","2016-01-04",
"2016-01-11","2016-01-16","2016-01-20","2016-01-27","2016-02-03","2016-02-10","2016-02-18","2016-02-25","2016-03-01","2016-03-08",
"2016-03-12","2016-03-19","2016-03-26","2016-04-05","2016-04-14","2016-04-21","2016-04-30","2016-05-09","2016-05-18","2016-05-27",
"2016-06-05","2016-06-14","2016-06-23","2016-07-03","2016-07-11","2016-07-20","2016-07-27","2016-08-01","2016-08-05","2016-08-12",
"2016-08-21","2016-08-31","2016-09-08","2016-09-17","2016-09-24","2016-09-28","2016-10-03","2016-10-08","2016-10-11","2016-10-16",
"2016-10-23","2016-10-30","2016-11-06","2016-11-13","2016-11-19","2016-11-26","2016-12-03","2016-12-09","2016-12-17","2016-12-21",
"2016-12-28","2017-01-04","2017-01-13","2017-01-22","2017-01-29","2017-02-08","2017-02-17","2017-02-25","2017-03-03","2017-03-11",
"2017-03-19","2017-03-27","2017-04-01","2017-04-07","2017-04-14","2017-04-20","2017-04-26","2017-05-01","2017-05-07","2017-05-12",
"2017-05-17"]
t9_vals = [8.92,8.83,8.81,8.71,8.63,8.59,8.49,8.57,8.47,8.42,
8.38,8.36,8.40,8.42,8.44,8.47,8.53,8.44,8.42,8.63,
8.67,8.69,8.71,9.00,9.14,9.04,9.08,9.04,9.14,9.16,
9.25,9.23,9.14,9.14,9.18,9.29,9.16,9.14,9.29,9.20,
9.06,8.92,8.86,8.75,8.79,8.71,8.75,8.63,8.59,8.75,
8.83,8.79,8.75,8.67,8.61,8.57,8.53,8.47,8.42,8.38,
8.36,8.34,8.34,8.30,8.24,8.23,8.38,8.47,8.26,8.26,
8.27,8.28,8.30,8.34,8.40,8.47,8.63,8.88,9.12,9.16,
9.18,9.16,9.20,9.29,9.16,9.14,9.16,9.22,9.29,9.16,
9.31,9.20,9.14,9.14,9.25,9.28,9.23,9.28,9.13,9.17,
9.13,9.04,8.85,8.92,8.79,8.72,8.68,9.00,8.70,8.49,
8.36]

t10_dates = ["2015-05-05","2015-05-16","2015-05-29","2015-06-11","2015-06-25","2015-07-04","2015-07-10","2015-07-17","2015-07-26","2015-08-04",
"2015-08-11","2015-08-15","2015-08-22","2015-08-27","2015-09-01","2015-09-10","2015-09-17","2015-09-24","2015-09-29","2015-10-02",
"2015-10-06","2015-10-10","2015-10-15","2015-10-19","2015-10-26","2015-11-01","2015-11-05","2015-11-10","2015-11-14","2015-11-21",
"2015-11-28","2015-12-03","2015-12-09","2015-12-14","2015-12-21","2015-12-29","2016-01-04","2016-01-09","2016-01-13","2016-01-17",
"2016-01-20","2016-01-24","2016-01-30","2016-02-06","2016-02-10","2016-02-17","2016-02-22","2016-02-27","2016-03-01","2016-03-05",
"2016-03-10","2016-03-14","2016-03-21","2016-03-28","2016-04-02","2016-04-06","2016-04-09","2016-04-14","2016-04-21","2016-04-30",
"2016-05-09","2016-05-23","2016-06-05","2016-06-19","2016-07-03","2016-07-16","2016-07-25","2016-08-08","2016-08-21","2016-09-04",
"2016-09-17","2016-09-24","2016-10-01","2016-10-08","2016-10-12","2016-10-16","2016-10-23","2016-10-30","2016-11-06","2016-11-13",
"2016-11-19","2016-11-26","2016-12-03","2016-12-09","2016-12-17","2016-12-21","2016-12-28","2017-01-06","2017-01-15","2017-01-22",
"2017-01-29","2017-02-05","2017-02-11","2017-02-17","2017-02-23","2017-02-26","2017-03-05","2017-03-09","2017-03-13","2017-03-17",
"2017-03-22","2017-03-27","2017-03-29","2017-03-31","2017-04-03","2017-04-09","2017-04-13","2017-04-16","2017-04-20","2017-04-24",
"2017-04-27","2017-05-01","2017-05-03","2017-05-09","2017-05-15","2017-05-27","2017-06-10","2017-06-21","2017-07-02","2017-07-13",
"2017-07-25","2017-08-05","2017-08-14","2017-08-24"]
t10_vals = [11.35,11.26,11.16,11.05,10.93,10.85,10.68,10.66,10.66,10.62,
10.58,10.68,10.70,10.77,10.68,10.64,10.64,10.56,10.50,10.85,
11.18,11.26,11.16,11.20,11.14,11.09,11.22,11.36,11.38,11.26,
11.22,11.20,11.38,11.30,11.18,11.42,11.30,11.34,11.24,10.97,
10.77,10.64,10.81,10.60,10.52,10.46,10.40,10.27,10.15,10.23,
10.21,10.15,10.07,9.94,9.74,9.57,9.82,10.07,10.09,10.07,
9.94,9.82,9.76,9.72,9.70,9.64,9.62,9.59,9.57,9.55,
9.53,9.66,9.74,10.07,10.60,10.66,10.64,10.66,10.72,10.83,
10.68,10.60,10.56,10.64,10.77,10.60,10.77,10.64,10.50,10.46,
10.56,10.64,10.74,10.72,10.76,10.74,10.57,10.10,10.14,9.74,
9.51,9.47,9.72,9.51,9.59,9.66,9.76,9.91,9.93,9.55,
9.23,9.17,9.55,9.30,9.13,9.02,9.02,8.96,8.87,8.79,
8.72,8.68,8.62,8.59]

t11_dates = ["2018-05-30","2018-06-06","2018-06-14","2018-06-20","2018-06-27","2018-07-04","2018-07-15","2018-07-26","2018-08-08","2018-08-19","2018-09-02"]
t11_vals = [9.13,9.00,8.87,8.85,8.98,8.94,8.85,8.79,8.75,8.70,8.68]

t12_dates = ["2018-05-29","2018-06-06","2018-06-17","2018-06-28","2018-07-10","2018-07-18","2018-07-28","2018-08-07","2018-08-19","2018-09-02"]
t12_vals = [6.80,6.75,6.65,6.63,6.63,6.61,6.58,6.56,6.54,6.51]

series_names = ["T1","T2","T3","T4","T5","T6","T7","T8","T9","T10","T11","T12"]
series_colors = ["#0000ff","#008000","#808080","#ff0000","#bf00bf","#00bfbf",
                 "#ffa500","#00ff00","#000000","#bfbf00","#ffc0cb","#8b0000"]
series_dates = [t1_dates,t2_dates,t3_dates,t4_dates,t5_dates,t6_dates,
                t7_dates,t8_dates,t9_dates,t10_dates,t11_dates,t12_dates]
series_vals = [t1_vals,t2_vals,t3_vals,t4_vals,t5_vals,t6_vals,
               t7_vals,t8_vals,t9_vals,t10_vals,t11_vals,t12_vals]

y_title = "Grunnvatnshæð [m y.s.]"
box1_text = "Framkvæmdir neðst á<br>Hlíðarenda hefjast"
box2_text = "Grunnvatn á greiðari leið<br>neðst á Hlíðarenda og<br>safnast fyrir"

# ---------------- figure ----------------
TEAL = "#3a9e94"
fig = go.Figure()
for name, d, v, c in zip(series_names, series_dates, series_vals, series_colors):
    fig.add_trace(go.Scatter(x=d, y=v, mode="lines", name=name,
                             line=dict(color=c, width=2), connectgaps=False))

axis_common = dict(
    ticks="inside", ticklen=8, tickwidth=2, tickcolor="black",
    showline=True, linecolor="black", linewidth=3, mirror="ticks",
    showgrid=True, gridcolor="#b0b0b0", gridwidth=2, zeroline=False,
    tickfont=dict(family="DejaVu Sans", size=24, color="black"),
    automargin=False,
)

fig.update_layout(
    width=1905, height=1068,
    margin=dict(l=88, r=146, t=17, b=28, autoexpand=False),
    paper_bgcolor="white", plot_bgcolor="white",
    font=dict(family="DejaVu Sans", size=22, color="black"),
    showlegend=True,
    legend=dict(x=1.0317, xanchor="left", y=0.697, yanchor="top",
                font=dict(family="DejaVu Sans", size=22.6, color="black"),
                bgcolor="rgba(0,0,0,0)", traceorder="normal"),
    xaxis=dict(type="date", range=["2014-01-01", "2018-09-03"],
               tick0="2014-01-01", dtick="M4", tickformat="%b '%y",
               ticklabelstandoff=-8,
               minor=dict(dtick="M1", ticks="inside", ticklen=5, tickwidth=2,
                          tickcolor="black", showgrid=False),
               **axis_common),
    yaxis=dict(range=[5, 16], tick0=0, dtick=1,
               minor=dict(dtick=0.1, ticks="inside", ticklen=4, tickwidth=2,
                          tickcolor="black", showgrid=False),
               title=dict(text=y_title, font=dict(family="DejaVu Sans", size=26.5, color="black"),
                          standoff=8),
               **axis_common),
)

# top (cut-off) teal box
fig.add_shape(type="rect", xref="paper", yref="paper",
              x0=0.0724, x1=0.4488, y0=1.0088, y1=1.4,
              line=dict(color=TEAL, width=4), fillcolor="white", layer="above")

# red vertical arrow
fig.add_annotation(x="2015-03-11", y=5.08, xref="x", yref="y",
                   ax="2015-03-11", ay=16.075, axref="x", ayref="y",
                   text="", showarrow=True, arrowhead=2, arrowsize=1,
                   arrowwidth=3, arrowcolor="#ff0000")

# black arrows
fig.add_annotation(x="2017-11-08", y=8.47, xref="x", yref="y",
                   ax="2017-09-07", ay=12.19, axref="x", ayref="y",
                   text="", showarrow=True, arrowhead=2, arrowsize=1,
                   arrowwidth=3.5, arrowcolor="#000000")
fig.add_annotation(x="2017-09-07", y=7.96, xref="x", yref="y",
                   ax="2016-12-19", ay=6.40, axref="x", ayref="y",
                   text="", showarrow=True, arrowhead=2, arrowsize=1,
                   arrowwidth=3.5, arrowcolor="#000000")

# text boxes
fig.add_annotation(x=0.7684, y=0.7097, xref="paper", yref="paper",
                   xanchor="center", yanchor="middle", showarrow=False,
                   text=box1_text, align="center",
                   font=dict(family="Liberation Sans", size=36, color="#1a1a1a"),
                   bgcolor="white", bordercolor=TEAL, borderwidth=4, borderpad=0,
                   width=492, height=104)
fig.add_annotation(x=0.4856, y=0.1026, xref="paper", yref="paper",
                   xanchor="center", yanchor="middle", showarrow=False,
                   text=box2_text, align="center",
                   font=dict(family="Liberation Sans", size=36, color="#1a1a1a"),
                   bgcolor="white", bordercolor=TEAL, borderwidth=4, borderpad=0,
                   width=493, height=148)

fig.write_html("out.html",
               config={"displayModeBar": False},
               post_script="document.body.style.margin='0px';document.body.style.overflow='hidden';")
